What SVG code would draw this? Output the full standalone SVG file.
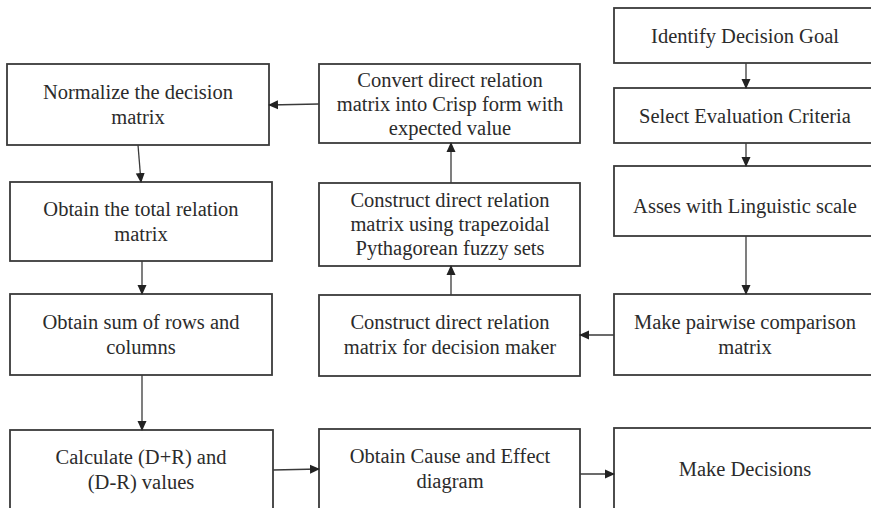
<svg xmlns="http://www.w3.org/2000/svg" width="871" height="508" viewBox="0 0 871 508">
  <style>
    .box { fill: #ffffff; stroke: #3a3a3a; stroke-width: 1.8; }
    .lbl { font-family: "Liberation Serif", "Times New Roman", serif; font-size: 20.5px; fill: #2b2b2b; text-anchor: middle; }
    .conn { fill: none; stroke: #3a3a3a; stroke-width: 1.3; marker-end: url(#arrow); }
  </style>
  <defs>
    <marker id="arrow" markerWidth="10" markerHeight="10" refX="9" refY="5" orient="auto" markerUnits="userSpaceOnUse">
      <path d="M0,0.5 L10,5 L0,9.5 Z" fill="#222222"/>
    </marker>
  </defs>
  <rect width="871" height="508" fill="#ffffff"/>

  <!-- right column -->
  <g id="identify-goal">
    <rect class="box" x="614" y="8" width="260" height="55"/>
    <text class="lbl" x="745" y="43">Identify Decision Goal</text>
  </g>
  <g id="select-criteria">
    <rect class="box" x="614" y="88" width="260" height="55"/>
    <text class="lbl" x="745" y="123">Select Evaluation Criteria</text>
  </g>
  <g id="linguistic-scale">
    <rect class="box" x="614" y="166" width="260" height="70"/>
    <text class="lbl" x="745" y="213">Asses with Linguistic scale</text>
  </g>
  <g id="pairwise-matrix">
    <rect class="box" x="614" y="294" width="260" height="81"/>
    <text class="lbl" x="745" y="329">Make pairwise comparison</text>
    <text class="lbl" x="745" y="354">matrix</text>
  </g>
  <g id="make-decisions">
    <rect class="box" x="614" y="428" width="260" height="90"/>
    <text class="lbl" x="745" y="476">Make Decisions</text>
  </g>

  <!-- middle column -->
  <g id="convert-crisp">
    <rect class="box" x="319" y="64" width="261" height="79"/>
    <text class="lbl" x="450" y="87">Convert direct relation</text>
    <text class="lbl" x="450" y="111">matrix into Crisp form with</text>
    <text class="lbl" x="450" y="135">expected value</text>
  </g>
  <g id="construct-trapezoidal">
    <rect class="box" x="319" y="183" width="261" height="83"/>
    <text class="lbl" x="450" y="207">Construct direct relation</text>
    <text class="lbl" x="450" y="231">matrix using trapezoidal</text>
    <text class="lbl" x="450" y="255">Pythagorean fuzzy sets</text>
  </g>
  <g id="construct-decision-maker">
    <rect class="box" x="319" y="295" width="261" height="81"/>
    <text class="lbl" x="450" y="329">Construct direct relation</text>
    <text class="lbl" x="450" y="354">matrix for decision maker</text>
  </g>
  <g id="cause-effect">
    <rect class="box" x="319" y="429" width="261" height="90"/>
    <text class="lbl" x="450" y="463">Obtain Cause and Effect</text>
    <text class="lbl" x="450" y="488">diagram</text>
  </g>

  <!-- left column -->
  <g id="normalize">
    <rect class="box" x="7" y="64" width="262" height="81"/>
    <text class="lbl" x="138" y="99">Normalize the decision</text>
    <text class="lbl" x="138" y="124">matrix</text>
  </g>
  <g id="total-relation">
    <rect class="box" x="10" y="182" width="262" height="79"/>
    <text class="lbl" x="141" y="216">Obtain the total relation</text>
    <text class="lbl" x="141" y="241">matrix</text>
  </g>
  <g id="sum-rows-columns">
    <rect class="box" x="10" y="294" width="262" height="81"/>
    <text class="lbl" x="141" y="329">Obtain sum of rows and</text>
    <text class="lbl" x="141" y="354">columns</text>
  </g>
  <g id="calculate-dr">
    <rect class="box" x="10" y="430" width="263" height="90"/>
    <text class="lbl" x="141" y="464">Calculate (D+R) and</text>
    <text class="lbl" x="141" y="489">(D-R) values</text>
  </g>

  <!-- connectors -->
  <g id="connectors">
    <line class="conn" x1="746" y1="63" x2="746" y2="88"/>
    <line class="conn" x1="746" y1="143" x2="746" y2="166"/>
    <line class="conn" x1="746" y1="236" x2="746" y2="294"/>
    <line class="conn" x1="614" y1="335" x2="580" y2="335"/>
    <line class="conn" x1="451" y1="295" x2="451" y2="266"/>
    <line class="conn" x1="451" y1="183" x2="451" y2="143"/>
    <line class="conn" x1="319" y1="104" x2="269" y2="105"/>
    <line class="conn" x1="138" y1="145" x2="141" y2="182"/>
    <line class="conn" x1="142" y1="261" x2="142" y2="294"/>
    <line class="conn" x1="142" y1="375" x2="142" y2="430"/>
    <line class="conn" x1="273" y1="470" x2="319" y2="469"/>
    <line class="conn" x1="580" y1="474" x2="614" y2="474"/>
  </g>
</svg>
